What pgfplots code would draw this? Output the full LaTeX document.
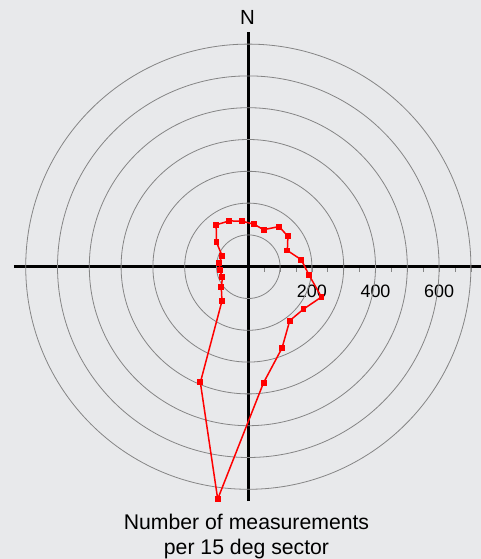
\documentclass[border=0pt]{standalone}
\usepackage{fontspec}
\setmainfont{Liberation Sans}
\usepackage{pgfplots}
\pgfplotsset{compat=1.18}
\definecolor{bg}{HTML}{E8E9EB}
\definecolor{ring}{HTML}{858585}
\begin{document}
\begin{tikzpicture}
\fill[bg] (-248.3bp,-292.3bp) rectangle (232.7bp,266.7bp);
\begin{axis}[
  anchor=origin, at={(0,0)},
  x=0.318bp, y=0.318bp,
  xmin=-737, xmax=737, ymin=-737, ymax=737,
  axis lines=middle,
  axis line style={-, line width=3bp, black},
  xtick={200,400,600}, ytick=\empty,
  minor xtick={50,100,...,700},
  tick align=outside,
  major tick length=5bp, minor tick length=5bp,
  every tick/.style={ring, line width=0.6bp},
  xticklabel style={font=\fontsize{18}{20}\selectfont, yshift=-10bp},
  /pgf/number format/assume math mode=true,
  clip=false,
]
% range rings, every 100
\draw[ring, line width=0.8bp] (axis cs:0,0) circle[radius=100];
\draw[ring, line width=0.8bp] (axis cs:0,0) circle[radius=200];
\draw[ring, line width=0.8bp] (axis cs:0,0) circle[radius=300];
\draw[ring, line width=0.8bp] (axis cs:0,0) circle[radius=400];
\draw[ring, line width=0.8bp] (axis cs:0,0) circle[radius=500];
\draw[ring, line width=0.8bp] (axis cs:0,0) circle[radius=600];
\draw[ring, line width=0.8bp] (axis cs:0,0) circle[radius=700];
% counts per 15 deg sector (angle counter-clockwise from east, count)
\addplot[red, line width=1.5bp, mark=square*, mark size=2.2bp, data cs=polar] coordinates {
  (82.5,135) (67.5,126) (52.5,159) (37.5,157) (22.5,133) (7.5,168)
  (-7.5,192) (-22.5,249) (-37.5,219) (-52.5,214) (-67.5,277) (-82.5,368)
  (-97.5,737) (-112.5,394) (-127.5,136) (-142.5,107) (-157.5,88) (-172.5,90)
  (-187.5,92) (-202.5,89) (-217.5,126) (-232.5,166) (-247.5,156) (-262.5,144)
  (-277.5,135)
};
\end{axis}
\node[font=\fontsize{20.5}{24}\selectfont, anchor=base] at (-0.8bp,241.7bp) {N};
\node[font=\fontsize{21.3}{25}\selectfont, anchor=base] at (-1.8bp,-262.3bp) {Number of measurements};
\node[font=\fontsize{21.3}{25}\selectfont, anchor=base] at (-1.8bp,-287.3bp) {per 15 deg sector};
\pgfresetboundingbox
\useasboundingbox (-248.3bp,-292.3bp) rectangle (232.7bp,266.7bp);
\end{tikzpicture}
\end{document}
